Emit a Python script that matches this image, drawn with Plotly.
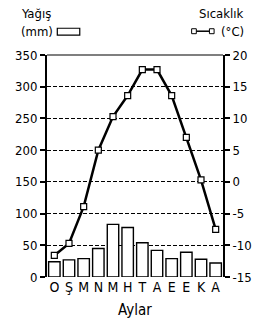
import plotly.graph_objects as go

months = ["O", "Ş", "M", "N", "M ", "H", "T", "A", "E", "E ", "K", "A "]
month_labels = ["O", "Ş", "M", "N", "M", "H", "T", "A", "E", "E", "K", "A"]
precip_mm = [24, 27, 29, 45, 83, 78, 54, 42, 29, 39, 28, 22]
temp_c = [-11.6, -9.7, -3.9, 5.0, 10.3, 13.6, 17.7, 17.7, 13.6, 7.0, 0.3, -7.5]
left_ticks = [0, 50, 100, 150, 200, 250, 300, 350]
right_ticks = [-15, -10, -5, 0, 5, 10, 15, 20]
right_tick_labels = ["-15", "-10", "-5", "0", "5", "10", "15", "20"]

FONT = "DejaVu Sans Condensed, Liberation Sans Narrow, Liberation Sans, sans-serif"
W, H = 264, 328
L, R, T, B = 47, 29, 55, 49
pw, ph = W - L - R, H - T - B

def px(x):
    return (x - L) / pw

def py(y):
    return (H - B - y) / ph

fig = go.Figure()
fig.add_trace(go.Bar(
    x=months, y=precip_mm, marker=dict(color="white", line=dict(color="black", width=1.4)),
    width=0.78, yaxis="y", showlegend=False))
fig.add_trace(go.Scatter(
    x=months, y=temp_c, mode="lines+markers", yaxis="y2",
    line=dict(color="black", width=2.5),
    marker=dict(symbol="square", size=6, color="white", line=dict(color="black", width=1.2)),
    showlegend=False))

fig.update_layout(
    width=W, height=H, margin=dict(l=L, r=R, t=T, b=B),
    paper_bgcolor="white", plot_bgcolor="white",
    font=dict(family=FONT, size=13, color="black"),
    xaxis=dict(tickmode="array", tickvals=months, ticktext=month_labels,
               range=[-0.5, 11.5], showgrid=False, ticks="", showline=False,
               title=dict(text="Aylar", standoff=10, font=dict(size=15)), tickfont=dict(size=14)),
    yaxis=dict(range=[0, 350], tickvals=left_ticks, showgrid=True, griddash="4px,2px",
               gridcolor="black", gridwidth=1, showline=True, linecolor="black", linewidth=2,
               ticks="outside", ticklen=5, tickcolor="black", tickwidth=1.5, zeroline=False),
    yaxis2=dict(range=[-15, 20], tickvals=right_ticks, ticktext=right_tick_labels,
                overlaying="y", side="right",
                showgrid=False, showline=True, linecolor="black", linewidth=2,
                ticks="outside", ticklen=5, tickcolor="black", tickwidth=1.5, zeroline=False),
    bargap=0.22,
)

shapes = [
    dict(type="line", xref="paper", yref="paper", x0=0, x1=1, y0=1, y1=1,
         line=dict(color="black", width=1.2)),
    dict(type="rect", xref="paper", yref="paper", x0=px(58), x1=px(82), y0=py(35), y1=py(28),
         line=dict(color="black", width=1.2), fillcolor="white"),
    dict(type="line", xref="paper", yref="paper", x0=px(204), x1=px(223), y0=py(31), y1=py(31),
         line=dict(color="black", width=1.5)),
]
for cx in (204, 223):
    shapes.append(dict(type="rect", xref="paper", yref="paper", x0=px(cx - 2.5), x1=px(cx + 2.5),
                       y0=py(33.5), y1=py(28.5), line=dict(color="black", width=1), fillcolor="white"))
fig.update_layout(shapes=shapes)

ann = [
    dict(text="Yağış", x=px(17), y=py(13), xanchor="left"),
    dict(text="(mm)", x=px(17), y=py(31), xanchor="left"),
    dict(text="Sıcaklık", x=px(260), y=py(13), xanchor="right"),
    dict(text="(°C)", x=px(260), y=py(31), xanchor="right"),
]
for a in ann:
    fig.add_annotation(xref="paper", yref="paper", yanchor="middle", showarrow=False,
                       font=dict(size=13, family=FONT), **a)

fig.write_html("out.html", config={"displayModeBar": False},
               post_script="document.body.style.margin='0';")
